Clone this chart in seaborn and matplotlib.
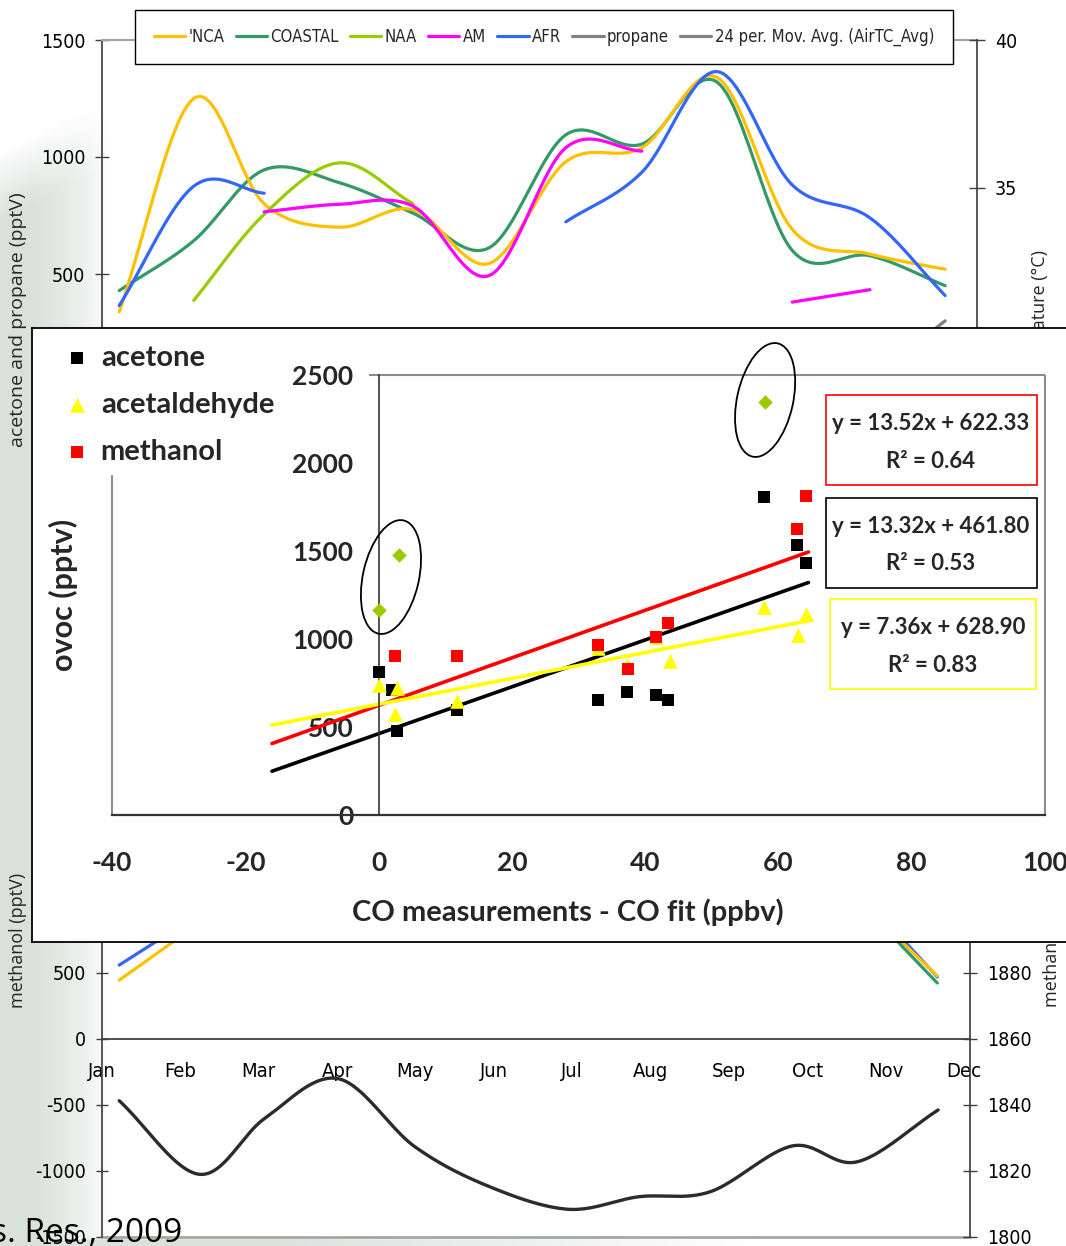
import numpy as np
import pandas as pd
import matplotlib
matplotlib.use("Agg")
import matplotlib.pyplot as plt
import seaborn as sns
from matplotlib import font_manager as fm
from matplotlib.font_manager import FontProperties
from matplotlib.patches import Ellipse, Rectangle
import matplotlib.transforms as mtransforms

# ---------------- data ----------------
month_labels = ['Jan', 'Feb', 'Mar', 'Apr', 'May', 'Jun', 'Jul', 'Aug', 'Sep', 'Oct', 'Nov', 'Dec']

# top panel (acetone / propane, pptV) - positions in month units
top_x = [0.22, 1.17, 2.07, 3.03, 3.97, 4.94, 5.92, 6.89, 7.85, 8.81, 9.80, 10.76]
nca = [338, 1250, 800, 700, 775, 545, 980, 1040, 1340, 690, 585, 520]
coastal = [429, 642, 945, 890, 760, 612, 1095, 1055, 1320, 600, 578, 450]
naa = [np.nan, 387, 755, 975, 800, np.nan, np.nan, np.nan, np.nan, np.nan, np.nan, np.nan]
am = [np.nan, np.nan, 766, 798, 790, 493, 1040, 1025, np.nan, 380, 433, np.nan]
afr = [365, 875, 845, np.nan, np.nan, np.nan, 723, 935, 1365, 880, 740, 408]
propane = [np.nan, np.nan, np.nan, np.nan, np.nan, np.nan, np.nan, np.nan, np.nan, np.nan, 45, 300]

# bottom panel (methanol, pptV, and methane, ppbV)
meoh_x = [0.22, 1.17, 9.80, 10.66]
meoh_afr = [560, 920, 1026, 470]
meoh_nca = [445, 848, 970, 477]
meoh_coastal = [np.nan, np.nan, 957, 424]
ch4_x = [0.22, 1.24, 2.08, 3.01, 3.99, 4.94, 5.95, 6.85, 7.76, 8.81, 9.64, 10.67]
ch4 = [1841.3, 1819.0, 1836.0, 1848.0, 1827.4, 1815.3, 1808.4, 1812.2, 1813.7, 1827.6, 1822.8, 1838.5]

# inset scatter: OVOC vs CO excess
acetone_x = [0.0, 2.0, 2.7, 11.8, 32.9, 37.3, 41.7, 43.5, 57.8, 62.8, 64.1]
acetone_y = [812, 710, 479, 597, 653, 700, 682, 653, 1804, 1534, 1434]
acetald_x = [0.0, 2.8, 2.4, 11.8, 33.0, 37.3, 41.7, 43.7, 57.9, 63.0, 64.1]
acetald_y = [739, 722, 574, 650, 950, 855, 1010, 875, 1179, 1023, 1142]
methanol_x = [2.4, 11.8, 32.9, 37.4, 41.7, 43.5, 62.8, 64.1]
methanol_y = [905, 905, 968, 830, 1009, 1091, 1627, 1814]
outlier_x = [0.0, 3.0, 58.0]
outlier_y = [1165, 1477, 2347]

fit_names = ['methanol', 'acetone', 'acetaldehyde']
fit_slope = [13.52, 13.32, 7.36]
fit_icpt = [622.33, 461.80, 628.90]
fit_r2 = ['0.64', '0.53', '0.83']
fit_xmin = [-16, -16, -16]
fit_xmax = [64.5, 64.5, 65.0]

# ---------------- style ----------------
sns.set_theme(style="white")
plt.rcParams['axes.unicode_minus'] = False
ttf = fm.fontManager.ttflist
names = {f.name for f in ttf}
BOLD = 'Lato' if 'Lato' in names else 'DejaVu Sans'
SANS = 'Open Sans' if 'Open Sans' in names else 'DejaVu Sans'
plt.rcParams['font.family'] = [SANS, 'DejaVu Sans']

HAS_NARROW = True
if 'Liberation Sans Narrow' in names:
    NARROW_KW = {'family': 'Liberation Sans Narrow'}
elif any(f.name == 'DejaVu Sans' and 'Condensed' in f.fname for f in ttf):
    NARROW_KW = {'family': 'DejaVu Sans', 'stretch': 'condensed'}
else:
    NARROW_KW = {'family': 'Liberation Sans'}
    HAS_NARROW = False


def narrow(size):
    return FontProperties(size=size, **NARROW_KW)


W, H = 1066, 1246
fig = plt.figure(figsize=(W / 100, H / 100), dpi=100)
fig.patch.set_facecolor('white')


def rect(l, t, r, b):
    return [l / W, 1 - b / H, (r - l) / W, (b - t) / H]


def F(px, py):
    return (px / W, 1 - py / H)


PT = 0.72  # points per pixel at 100 dpi

# background wash
bg = fig.add_axes([0, 0, 1, 1], zorder=-10)
bg.set_axis_off()
yy, xx = np.mgrid[0:H, 0:W].astype(float)
left = np.clip((108 - xx) / 75, 0, 1) ** 0.7 * np.clip((yy - (150 - 0.5 * xx)) / 70, 0, 1)
bottom = np.clip((yy - 1236) / 4, 0, 1) * np.clip((760 - xx) / 500, 0, 1)
alpha = np.maximum(left, bottom)
img = np.zeros((H, W, 4))
img[..., 0], img[..., 1], img[..., 2] = 0.85, 0.89, 0.862
img[..., 3] = alpha
bg.imshow(img, extent=[0, W, H, 0], aspect='auto', interpolation='bilinear')
bg.set_xlim(0, W)
bg.set_ylim(H, 0)


def catmull(xs, ys, n=24):
    xs = np.asarray(xs, float)
    ys = np.asarray(ys, float)
    segs, cur = [], []
    for i, v in enumerate(ys):
        if np.isnan(v):
            if cur:
                segs.append(cur)
                cur = []
        else:
            cur.append(i)
    if cur:
        segs.append(cur)
    out = []
    for seg in segs:
        if len(seg) < 2:
            continue
        px, py = xs[seg], ys[seg]

        def tan(p):
            t = np.empty_like(p)
            t[0] = p[1] - p[0]
            t[-1] = p[-1] - p[-2]
            if len(p) > 2:
                t[1:-1] = (p[2:] - p[:-2]) / 2
            return t
        tx, ty = tan(px), tan(py)
        X, Y = [], []
        for i in range(len(px) - 1):
            t = np.linspace(0, 1, n)
            h00 = 2 * t**3 - 3 * t**2 + 1
            h10 = t**3 - 2 * t**2 + t
            h01 = -2 * t**3 + 3 * t**2
            h11 = t**3 - t**2
            X.append(h00 * px[i] + h10 * tx[i] + h01 * px[i + 1] + h11 * tx[i + 1])
            Y.append(h00 * py[i] + h10 * ty[i] + h01 * py[i + 1] + h11 * ty[i + 1])
        out.append((np.concatenate(X), np.concatenate(Y)))
    return out


def draw_line(ax, xs, ys, color, lw, label=None, smooth=True, z=2):
    first = None
    if smooth:
        segs = catmull(xs, ys)
    else:
        xs = np.asarray(xs, float)
        ys = np.asarray(ys, float)
        m = ~np.isnan(ys)
        segs = [(xs[m], ys[m])]
    for sx, sy in segs:
        sns.lineplot(x=sx, y=sy, ax=ax, color=color, lw=lw, sort=False,
                     estimator=None, legend=False, zorder=z)
        if first is None:
            first = ax.lines[-1]
    if first is not None and label:
        first.set_label(label)
    return first


def style_ticklabels(labels, fp):
    for t in labels:
        t.set_fontproperties(fp)
        t.set_color('black')


DARK = '#404040'
GRAY = '#a6a6a6'
LW = 2.3
TICK_FS = 14

# ---------------- top panel ----------------
ax_top = fig.add_axes(rect(102, 40, 977, 391), zorder=0)
ax_top.set_facecolor('none')
h_coastal = draw_line(ax_top, top_x, coastal, '#339966', LW, 'COASTAL')
h_nca = draw_line(ax_top, top_x, nca, '#ffc000', LW, "'NCA")
h_naa = draw_line(ax_top, top_x, naa, '#99cc00', LW, 'NAA')
h_afr = draw_line(ax_top, top_x, afr, '#3366ff', LW, 'AFR')
h_am = draw_line(ax_top, top_x, am, '#ff00ff', LW, 'AM')
h_prop = draw_line(ax_top, top_x, propane, '#808080', LW, 'propane', smooth=False)
ax_top.set_xlim(0, (977 - 102) / 78.36)
ax_top.set_ylim(0, 1500)
ax_top.set_xticks([])
ax_top.set_yticks([500, 1000, 1500], labels=['500', '1000', '1500'])
style_ticklabels(ax_top.get_yticklabels(), narrow(TICK_FS))
ax_top.tick_params(axis='y', direction='inout', length=14 * PT, width=1, color=DARK, pad=7)
for s in ['bottom', 'right']:
    ax_top.spines[s].set_visible(False)
ax_top.spines['left'].set_color(DARK)
ax_top.spines['top'].set_color(GRAY)
ax_top.spines['top'].set_linewidth(1.5)

ax_tr = ax_top.twinx()
ax_tr.set_zorder(0)
ax_tr.set_facecolor('none')
h_mov, = ax_tr.plot([], [], color='#7f7f7f', lw=LW, label='24 per. Mov. Avg. (AirTC_Avg)')
ax_tr.set_ylim(28.12, 40)
ax_tr.set_yticks([30, 35, 40], labels=['30', '35', '40'])
style_ticklabels(ax_tr.get_yticklabels(), narrow(TICK_FS))
ax_tr.tick_params(axis='y', direction='inout', length=16 * PT, width=1, color=DARK, pad=7)
for s in ['left', 'top', 'bottom']:
    ax_tr.spines[s].set_visible(False)
ax_tr.spines['right'].set_color(DARK)

handles = [h_nca, h_coastal, h_naa, h_am, h_afr, h_prop, h_mov]
leg_fs = 12.0 if HAS_NARROW else 11.4
leg = ax_tr.legend(handles, [h.get_label() for h in handles], ncol=7, loc='center',
                   bbox_to_anchor=F(544, 37), bbox_transform=fig.transFigure,
                   frameon=True, fancybox=False, edgecolor='black', facecolor='white',
                   framealpha=1, prop=narrow(leg_fs),
                   handlelength=1.9, handletextpad=0.2, columnspacing=0.65, borderpad=1.1)
leg.get_frame().set_linewidth(1.0)

# ---------------- bottom panel ----------------
ax_bot = fig.add_axes(rect(102, 841, 970, 1237), zorder=0)
ax_bot.set_facecolor('none')
draw_line(ax_bot, meoh_x, meoh_afr, '#3366ff', LW, smooth=False)
draw_line(ax_bot, meoh_x, meoh_nca, '#ffc000', LW, smooth=False)
draw_line(ax_bot, meoh_x, meoh_coastal, '#339966', LW, smooth=False)
ax_bot.set_xlim(0, (970 - 102) / 78.36)
ax_bot.set_ylim(-1500, 1500)
ax_bot.set_xticks(range(12), labels=month_labels)
ax_bot.set_yticks([-1500, -1000, -500, 0, 500], labels=['-1500', '-1000', '-500', '0', '500'])
ax_bot.tick_params(axis='x', direction='out', length=8 * PT, width=1, color=DARK, pad=11)
ax_bot.tick_params(axis='y', direction='inout', length=12 * PT, width=1, color=DARK, pad=7)
ax_bot.spines['bottom'].set_position(('data', 0))
ax_bot.spines['bottom'].set_color(DARK)
ax_bot.spines['bottom'].set_linewidth(1.3)
ax_bot.spines['left'].set_color(DARK)
ax_bot.spines['top'].set_visible(False)
ax_bot.spines['right'].set_visible(False)
ax_bot.axhline(-1500, color=GRAY, lw=2, clip_on=False)

ax_br = ax_bot.twinx()
ax_br.set_zorder(0)
ax_br.set_facecolor('none')
draw_line(ax_br, ch4_x, ch4, '#2b2b2b', 2.4)
ax_br.set_ylim(1800, 1920)
ax_br.set_yticks([1800, 1820, 1840, 1860, 1880], labels=['1800', '1820', '1840', '1860', '1880'])
ax_br.tick_params(axis='y', direction='inout', length=14 * PT, width=1, color=DARK, pad=7)
for s in ['left', 'top', 'bottom']:
    ax_br.spines[s].set_visible(False)
ax_br.spines['right'].set_color(DARK)
style_ticklabels(ax_bot.get_xticklabels(), narrow(TICK_FS + 0.5))
style_ticklabels(ax_bot.get_yticklabels(), narrow(TICK_FS))
style_ticklabels(ax_br.get_yticklabels(), narrow(TICK_FS))

# axis titles of background charts (partly covered by the inset)
fig.text(*F(18, 320), 'acetone and propane (pptV)', rotation=90, ha='center', va='center',
         fontsize=14, family=SANS, zorder=1)
fig.text(*F(18, 940), 'methanol (pptV)', rotation=90, ha='center', va='center',
         fontsize=13, family=SANS, zorder=1)
fig.text(*F(1040, 250), 'temperature (°C)', rotation=90, ha='center', va='top',
         fontsize=13, family=SANS, zorder=1)
fig.text(*F(1052, 1007), 'methane (ppbV)', rotation=90, ha='center', va='bottom',
         fontsize=13, family=SANS, zorder=1)
fig.text(*F(-9, 1242), 's. Res., 2009', ha='left', va='baseline', fontsize=24,
         family=SANS, color='black', zorder=2)

# ---------------- inset ----------------
ax_box = fig.add_axes(rect(32, 328, 1070, 942), zorder=5)
ax_box.set_facecolor('white')
ax_box.set_xticks([])
ax_box.set_yticks([])
for s in ax_box.spines.values():
    s.set_color('black')
    s.set_linewidth(1.3)

ax_sc = fig.add_axes(rect(112, 375, 1045, 815), zorder=6)
ax_sc.set_facecolor('none')
ax_sc.set_xlim(-40, 100)
ax_sc.set_ylim(0, 2500)

line_colors = {'methanol': '#ff0000', 'acetone': '#000000', 'acetaldehyde': '#ffff00'}
for name, m, b, x0, x1 in zip(fit_names, fit_slope, fit_icpt, fit_xmin, fit_xmax):
    xs = np.array([x0, x1], float)
    sns.lineplot(x=xs, y=m * xs + b, ax=ax_sc, color=line_colors[name], lw=2.6,
                 legend=False, zorder=2)

sns.scatterplot(x=outlier_x, y=outlier_y, ax=ax_sc, marker='D', color='#99cc00', s=55,
                linewidth=0, zorder=3, legend=False)
sns.scatterplot(x=acetone_x, y=acetone_y, ax=ax_sc, marker='s', color='black', s=85,
                linewidth=0, zorder=3, legend=False)
h_ac = ax_sc.collections[-1]
sns.scatterplot(x=acetald_x, y=acetald_y, ax=ax_sc, marker='^', color='#ffff00', s=110,
                linewidth=0, zorder=3, legend=False)
h_ald = ax_sc.collections[-1]
sns.scatterplot(x=methanol_x, y=methanol_y, ax=ax_sc, marker='s', color='#ff0000', s=85,
                linewidth=0, zorder=3, legend=False)
h_me = ax_sc.collections[-1]

# frame of plot area
ax_sc.hlines(2500, -1.5, 100, color='#8c8c8c', lw=1.5, clip_on=False, zorder=1)
ax_sc.vlines(100, 0, 2500, color='#8c8c8c', lw=1.5, clip_on=False, zorder=1)
ax_sc.vlines(-40, 0, 2500, color='#8c8c8c', lw=1.5, clip_on=False, zorder=1)
for s in ['top', 'right']:
    ax_sc.spines[s].set_visible(False)
ax_sc.spines['left'].set_position(('data', 0))
ax_sc.spines['left'].set_color('#333333')
ax_sc.spines['left'].set_linewidth(1.2)
ax_sc.spines['bottom'].set_color('#333333')
ax_sc.spines['bottom'].set_linewidth(1.6)

xt = [-40, -20, 0, 20, 40, 60, 80, 100]
yt = [0, 500, 1000, 1500, 2000, 2500]
ax_sc.set_xticks(xt, labels=[str(v) for v in xt], family=BOLD, fontweight='bold', fontsize=19)
ax_sc.set_yticks(yt, labels=[str(v) for v in yt], family=BOLD, fontweight='bold', fontsize=19)
ax_sc.tick_params(axis='x', direction='out', length=10 * PT, width=1.2, color='#333333', pad=19)
ax_sc.tick_params(axis='y', direction='out', length=10 * PT, width=1.2, color='#333333', pad=11)

ax_sc.set_xlabel('CO measurements - CO fit (ppbv)', family=BOLD, fontweight='bold', fontsize=21)
ax_sc.xaxis.set_label_coords((568 - 112) / 933, (815 - 898) / 440)
ax_sc.set_ylabel('ovoc (pptv)', family=BOLD, fontweight='bold', fontsize=22)
ax_sc.yaxis.set_label_coords((78 - 112) / 933, (815 - 595) / 440)

# ellipses around the outliers
ell_centers = [(1.86, 1352), (58.0, 2358)]
for cx, cy in ell_centers:
    tr = fig.dpi_scale_trans + mtransforms.ScaledTranslation(cx, cy, ax_sc.transData)
    ax_sc.add_patch(Ellipse((0, 0), 0.56, 1.16, angle=-12.5, transform=tr, fill=False,
                            ec='black', lw=1.3, clip_on=False, zorder=5))

lg = ax_sc.legend([h_ac, h_ald, h_me], ['acetone', 'acetaldehyde', 'methanol'],
                  loc='upper left', bbox_to_anchor=F(57, 336), bbox_transform=fig.transFigure,
                  frameon=True, facecolor='white', edgecolor='white', framealpha=1,
                  prop={'family': BOLD, 'weight': 'bold', 'size': 21},
                  handlelength=0.8, handletextpad=0.4, labelspacing=0.72, borderpad=0.3,
                  borderaxespad=0, fancybox=False)
lg.set_zorder(10)

# equation boxes
boxes = [((826, 395, 1037, 485), '#ff0000', 931), ((826, 498, 1037, 588), '#000000', 931),
         ((830, 599, 1036, 689), '#ffff00', 933)]
for (l, t, r, b), col, cx in boxes:
    fig.add_artist(Rectangle(F(l, b), (r - l) / W, (b - t) / H, transform=fig.transFigure,
                             facecolor='white', edgecolor=col, lw=1.2, zorder=7))
for ((l, t, r, b), col, cx), m, icpt, r2 in zip(boxes, fit_slope, fit_icpt, fit_r2):
    fig.text(*F(cx, t + 28), f'y = {m:.2f}x + {icpt:.2f}', ha='center', va='center',
             family=BOLD, fontweight='bold', fontsize=16, zorder=8)
    fig.text(*F(cx, t + 66), f'R² = {r2}', ha='center', va='center',
             family=BOLD, fontweight='bold', fontsize=16, zorder=8)

fig.savefig('out.png', dpi=100)
